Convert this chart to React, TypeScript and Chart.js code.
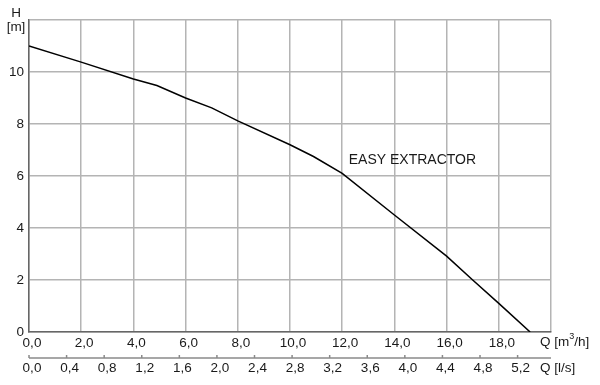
import React, { useEffect, useRef } from "react";
import { Chart, registerables } from "chart.js";

Chart.register(...registerables);

const flowM3h = [0, 2, 4, 4.9, 6, 7, 8, 10, 10.9, 12, 14, 16, 17, 18, 19.2];
const headM = [11.0, 10.38, 9.73, 9.48, 9.0, 8.62, 8.12, 7.2, 6.75, 6.1, 4.5, 2.92, 2.0, 1.1, 0];
const flowLsTicks = [0, 0.4, 0.8, 1.2, 1.6, 2.0, 2.4, 2.8, 3.2, 3.6, 4.0, 4.4, 4.8, 5.2];
const seriesName = "EASY EXTRACTOR";
const x2Unit = "Q [l/s]";
const yUnitTop = "H";
const yUnitBottom = "[m]";

const FONT = "'Liberation Sans', Arial, sans-serif";
const TEXT = "#1a1a1a";
const TICK_SIZE = 13.5;

const fmt = (v: number) => v.toFixed(1).replace(".", ",");

export default function App() {
  const ref = useRef<HTMLCanvasElement>(null);
  useEffect(() => {
    if (!ref.current) return;
    const overlay = {
      id: "overlay",
      afterDraw(chart: any) {
        const ctx = chart.ctx;
        const xs = chart.scales.x;
        const ys = chart.scales.y;
        ctx.save();
        // l/s secondary axis
        const yLine = 358;
        ctx.strokeStyle = "#8a8a8a";
        ctx.lineWidth = 1.5;
        ctx.beginPath();
        ctx.moveTo(xs.getPixelForValue(0), yLine);
        ctx.lineTo(xs.getPixelForValue(20), yLine);
        ctx.stroke();
        ctx.fillStyle = TEXT;
        ctx.font = `${TICK_SIZE}px ${FONT}`;
        ctx.textAlign = "center";
        ctx.textBaseline = "middle";
        flowLsTicks.forEach((v) => {
          const px = xs.getPixelForValue(v * 3.6);
          ctx.beginPath();
          ctx.moveTo(px, yLine);
          ctx.lineTo(px, yLine - 3);
          ctx.stroke();
          ctx.fillText(fmt(v), px + 3, 368);
        });
        // Q [m³/h] with superscript
        ctx.textAlign = "left";
        let x = 540;
        const t1 = "Q [m";
        ctx.fillText(t1, x, 342);
        x += ctx.measureText(t1).width;
        ctx.font = `9px ${FONT}`;
        ctx.fillText("3", x, 337);
        x += ctx.measureText("3").width;
        ctx.font = `${TICK_SIZE}px ${FONT}`;
        ctx.fillText("/h]", x, 342);
        ctx.fillText(x2Unit, 540, 368);
        ctx.textAlign = "center";
        ctx.fillText(yUnitTop, 16, 13);
        ctx.fillText(yUnitBottom, 16, 27.5);
        // series label
        ctx.font = `14px ${FONT}`;
        ctx.textAlign = "left";
        ctx.fillText(seriesName, xs.getPixelForValue(12.25), ys.getPixelForValue(6.6));
        ctx.restore();
      },
    };
    const chart = new Chart(ref.current, {
      type: "line",
      data: {
        datasets: [
          {
            label: seriesName,
            data: flowM3h.map((q, i) => ({ x: q, y: headM[i] })),
            borderColor: "#000",
            borderWidth: 1.5,
            pointRadius: 0,
            tension: 0,
            fill: false,
          },
        ],
      },
      options: {
        animation: false,
        responsive: false,
        layout: { padding: { top: 20, right: 49, left: 0, bottom: 0 } },
        plugins: { legend: { display: false }, tooltip: { enabled: false } },
        scales: {
          x: {
            type: "linear",
            min: 0,
            max: 20,
            afterFit: (s: any) => {
              s.height = 53;
            },
            ticks: {
              stepSize: 2,
              autoSkip: false,
              maxRotation: 0,
              padding: 3,
              labelOffset: 3,
              color: TEXT,
              font: { family: FONT, size: TICK_SIZE },
              callback: (v: any) => (Number(v) >= 20 ? "" : fmt(Number(v))),
            },
            grid: { color: "#b4b4b4", lineWidth: 1.5, drawTicks: false },
            border: { color: "#666", width: 1.5 },
          },
          y: {
            type: "linear",
            min: 0,
            max: 12,
            afterFit: (s: any) => {
              s.width = 29;
            },
            ticks: {
              stepSize: 2,
              autoSkip: false,
              padding: 5,
              color: TEXT,
              font: { family: FONT, size: TICK_SIZE },
              callback: (v: any) => (Number(v) >= 12 ? "" : String(v)),
            },
            grid: { color: "#b4b4b4", lineWidth: 1.5, drawTicks: false },
            border: { color: "#666", width: 1.5 },
          },
        },
      },
      plugins: [overlay],
    });
    return () => chart.destroy();
  }, []);
  return (
    <div style={{ position: "absolute", left: 0, top: 0, width: 600, height: 385, background: "#fff" }}>
      <canvas ref={ref} width={600} height={385} style={{ display: "block" }} />
    </div>
  );
}
